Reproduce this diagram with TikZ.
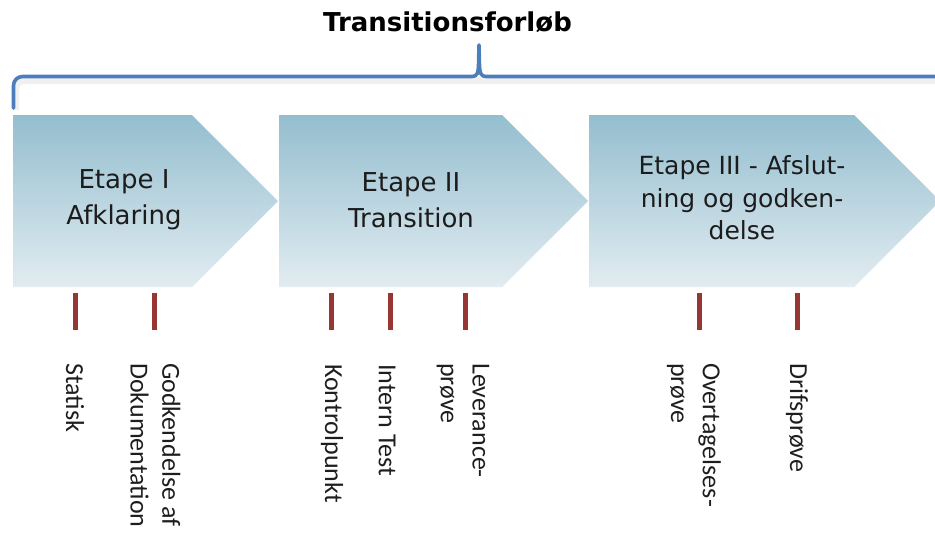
\documentclass[tikz,border=0pt]{standalone}
\usepackage{fontspec}
\setmainfont{DejaVu Sans}
\newfontfamily\labfont{Carlito}
\definecolor{chevtop}{RGB}{148,190,207}
\definecolor{chevbot}{RGB}{226,236,241}
\definecolor{stagetxt}{RGB}{28,28,28}
\definecolor{tickred}{RGB}{150,55,52}
\definecolor{labtxt}{RGB}{30,30,30}
\definecolor{braceblue}{RGB}{76,126,188}
\begin{document}
\begin{tikzpicture}[x=1pt,y=-1pt,
  chev/.style={top color=chevtop, bottom color=chevbot, draw=none},
  stagetext/.style={font=\fontsize{26}{36}\selectfont, text=stagetxt, align=center, inner sep=0pt},
  stagetextb/.style={font=\fontsize{25}{32.5}\selectfont, text=stagetxt, align=center, inner sep=0pt},
  tickmark/.style={draw=tickred, line width=5pt},
  milestone/.style={font=\labfont\fontsize{26}{31.7}\selectfont, rotate=-90, anchor=west, align=left, inner sep=0pt, text=labtxt},
  bracestyle/.style={draw=braceblue, line width=3.6pt, line join=round, line cap=round},
  braceshadow/.style={draw=black!6, line width=7pt, line join=round}
]
\useasboundingbox (0,0) rectangle (935,533);
\clip (0,0) rectangle (935,533);

% title
\node[font=\bfseries\fontsize{26}{30}\selectfont, inner sep=0pt] (title) at (447.5,22.5) {Transitionsforløb};

% brace (shadow + line)
\draw[braceshadow] (15.5,110) {[rounded corners=9pt] -- (15.5,80.5) -- (300,80.5)} -- (940,80.5);
\draw[bracestyle] (13.5,108) {[rounded corners=9pt] -- (13.5,76.5) -- (300,76.5)} -- (472,76.5)
  .. controls (477,76.5) and (478.3,73) .. (478.5,66) -- (479,45) -- (479.5,66)
  .. controls (479.7,73) and (481,76.5) .. (486,76.5) -- (940,76.5);

% chevrons
\shade[chev] (13,115) -- (192,115) -- (278,201) -- (192,287) -- (13,287) -- cycle;
\shade[chev] (279,115) -- (502,115) -- (588,201) -- (502,287) -- (279,287) -- cycle;
\shade[chev] (589,115) -- (854,115) -- (940,201) -- (854,287) -- (589,287) -- cycle;

\node[stagetext] (s1) at (124,200) {Etape I\\Afklaring};
\node[stagetext] (s2) at (411,200) {Etape II\\Transition};
\node[stagetextb] (s3) at (742,198) {Etape III - Afslut-\\ning og godken-\\delse};

% ticks
\foreach \n/\x in {a/75,b/154,c/331,d/390,e/465,f/699,g/797}{
  \coordinate (t\n) at (\x,293);
  \coordinate (u\n) at (\x,330);
  \draw[tickmark] (t\n) -- (u\n);
}

% milestone labels
\node[milestone] (m1) at (75,363) {Statisk};
\node[milestone] (m2) at (155.5,363) {Godkendelse af\\Dokumentation};
\node[milestone] (m3) at (332,364) {Kontrolpunkt};
\node[milestone] (m4) at (387,364) {Intern Test};
\node[milestone] (m5) at (463,363) {Leverance-\\prøve};
\node[milestone] (m6) at (694,363) {Overtagelses-\\prøve};
\node[milestone] (m7) at (797,363) {Drifsprøve};
\end{tikzpicture}
\end{document}
